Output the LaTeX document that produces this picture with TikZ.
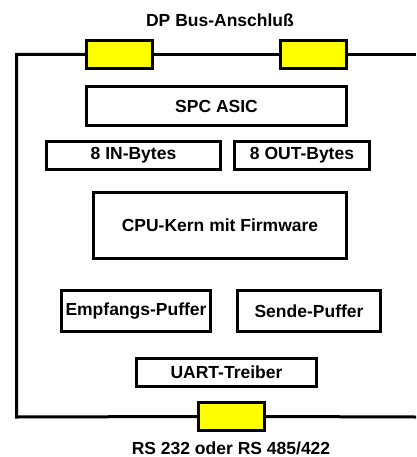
\documentclass[tikz,border=0pt]{standalone}
\usepackage{fontspec}
\setmainfont{Liberation Sans}
\usetikzlibrary{positioning}
\definecolor{plugyellow}{RGB}{255, 255, 0}

\begin{document}
\begin{tikzpicture}[x=1pt, y=-1pt,
    modul/.style={draw, line width=3pt, inner sep=0pt, font=\bfseries\fontsize{17.5}{20}\selectfont},
    stecker/.style={draw, line width=3pt, fill=plugyellow, minimum width=66pt, minimum height=28pt, inner sep=0pt},
    bus/.style={line width=3pt},
    beschrift/.style={inner sep=0pt, font=\bfseries\fontsize{17.5}{20}\selectfont}]
    \useasboundingbox (0,0) rectangle (416,457);

    % Frame corners and free ends
    \coordinate (rechtsoben) at (416,54.5);
    \coordinate (linksoben) at (16.5,54.5);
    \coordinate (linksunten) at (16.5,417);
    \coordinate (rechtsunten) at (416,417);

    % Plugs
    \node[stecker] (dpa) at (119.5,54.5) {};
    \node[stecker] (dpb) at (313.5,54.5) {};
    \node[stecker] (rs) at (231.5,416.5) {};

    % Bus line
    \draw[bus] (rechtsoben) -- (dpb.east);
    \draw[bus] (dpb.west) -- (dpa.east);
    \draw[bus] (dpa.west) -- (linksoben) -- (linksunten) -- (rs.west);
    \draw[bus] (rs.east) -- (rechtsunten);

    % Modules
    \node[modul, minimum width=260pt, minimum height=39pt] (asic) at (216.5,106) {SPC ASIC};
    \node[modul, minimum width=174pt, minimum height=28pt] (inb) at (133.5,155.5) {8 IN-Bytes};
    \node[modul, minimum width=135pt, minimum height=28pt] (outb) at (302,155.5) {8 OUT-Bytes};
    \node[modul, minimum width=253pt, minimum height=66pt] (cpu) at (220,225.5) {CPU-Kern mit Firmware};
    \node[modul, minimum width=149pt, minimum height=41pt] (empf) at (136,311) {Empfangs-Puffer};
    \node[modul, minimum width=143pt, minimum height=41pt] (sende) at (309,311) {Sende-Puffer};
    \node[modul, minimum width=180pt, minimum height=28pt] (uart) at (226.5,372.5) {UART-Treiber};

    % Labels
    \node[beschrift] (titel) at (220,20) {DP Bus-Anschluß};
    \node[beschrift] (rslabel) at (231,448) {RS 232 oder RS 485/422};
\end{tikzpicture}
\end{document}
